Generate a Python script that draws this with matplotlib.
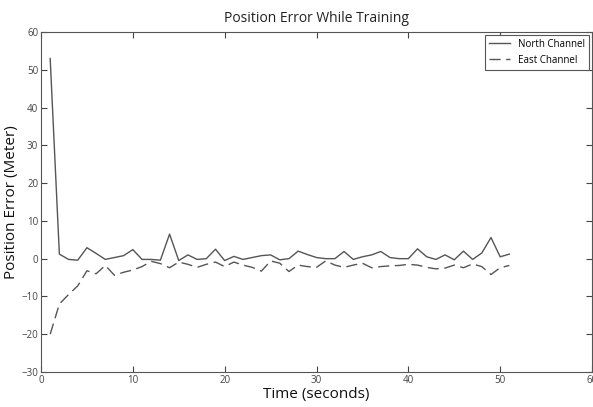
import matplotlib
matplotlib.use("Agg")
import matplotlib.pyplot as plt

time_s = list(range(1, 52))
north = [53, 1.2, -0.2, -0.4, 2.9, 1.4, -0.2, 0.3, 0.8, 2.4,
         -0.2, -0.2, -0.4, 6.5, -0.5, 1.0, -0.2, 0.0, 2.5, -0.5,
         0.6, -0.2, 0.3, 0.8, 1.0, -0.3, 0.0, 2.0, 1.1, 0.3,
         0.0, 0.0, 1.9, -0.2, 0.5, 1.0, 1.9, 0.3, 0.0, 0.0,
         2.6, 0.5, -0.2, 1.0, -0.3, 2.0, -0.2, 1.5, 5.6, 0.5, 1.2]
east = [-20, -12, -9.5, -7.2, -3.2, -4.0, -1.8, -4.4, -3.6, -3.0,
        -2.1, -0.7, -1.3, -2.4, -0.9, -1.5, -2.3, -1.5, -0.9, -2.1,
        -0.9, -1.7, -2.3, -3.3, -0.6, -1.2, -3.4, -1.7, -2.1, -2.3,
        -0.6, -1.7, -2.3, -1.7, -1.2, -2.4, -2.1, -1.9, -1.8, -1.5,
        -1.7, -2.3, -2.7, -2.5, -1.7, -2.4, -1.4, -2.1, -4.2, -2.4, -1.8]

plt.rcParams['font.family'] = ['Open Sans', 'DejaVu Sans']

fig = plt.figure(figsize=(5.93, 4.07), dpi=100)
ax = fig.add_axes([41/593, 1 - 372/407, (592-41)/593, (372-32)/407])

col = '#555555'
ax.plot(time_s, north, color=col, lw=1.0, label='North Channel')
ax.plot(time_s, east, color=col, lw=1.0, ls=(0, (8, 4)), label='East Channel')

ax.set_xlim(0, 60)
ax.set_ylim(-30, 60)
ax.set_xticks(range(0, 61, 10))
ax.set_yticks(range(-30, 61, 10))
ax.tick_params(direction='in', top=True, right=True, labelsize=7, colors='#444444',
               length=4, width=0.8, pad=2)
for s in ax.spines.values():
    s.set_color('#555555')
    s.set_linewidth(0.8)

ax.set_title('Position Error While Training', fontsize=10, color='#222222', pad=7)
ax.set_xlabel('Time (seconds)', fontsize=11, color='#111111', labelpad=1)
ax.set_ylabel('Position Error (Meter)', fontsize=11, color='#111111', labelpad=2)

leg = ax.legend(loc='upper right', fontsize=7, fancybox=False, edgecolor='#555555',
                framealpha=1, handlelength=2.2, borderaxespad=0.3, labelspacing=0.5)
leg.get_frame().set_linewidth(0.8)

fig.savefig('out.png', dpi=100)
